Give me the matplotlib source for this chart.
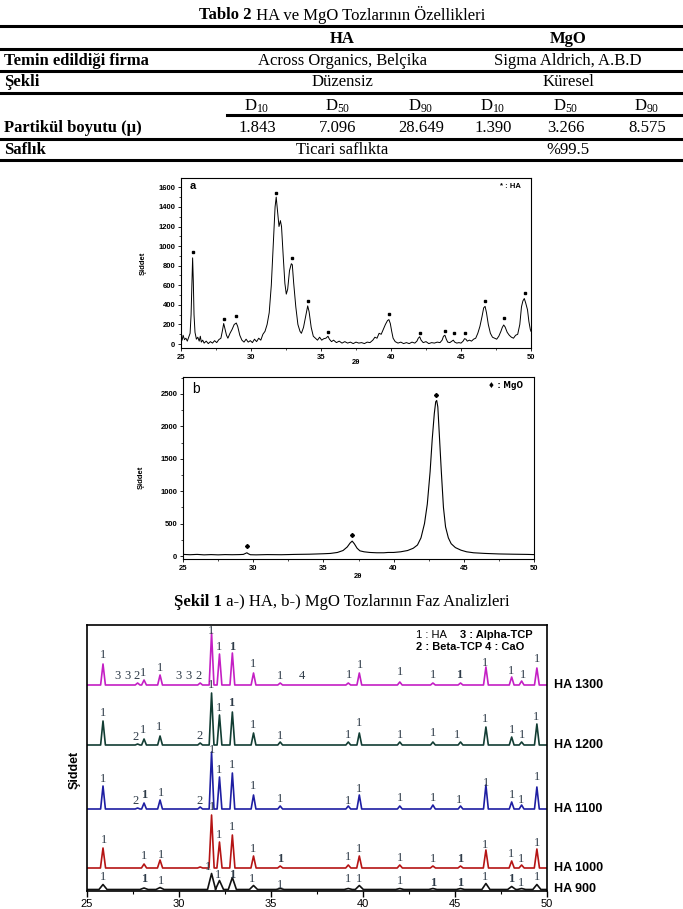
import matplotlib
matplotlib.use("Agg")
import numpy as np
import matplotlib.pyplot as plt
from matplotlib.lines import Line2D
from matplotlib.ticker import MultipleLocator, NullLocator

plt.rcParams["mathtext.fontset"] = "custom"
plt.rcParams["mathtext.rm"] = "Liberation Serif"
plt.rcParams["mathtext.it"] = "Liberation Serif:italic"
plt.rcParams["mathtext.bf"] = "Liberation Serif:bold"

W, H = 683, 909
SERIF = "Liberation Serif"
SANS = "Liberation Sans"

# ---- table data ----
TABLE_TITLE_BOLD = "Tablo 2"
TABLE_TITLE = " HA ve MgO Tozlarının Özellikleri"
GROUPS = ["HA", "MgO"]
ROW_LABELS = ["Temin edildiği firma", "Şekli", "Partikül boyutu (µ)", "Saflık"]
SUPPLIER = ["Across Organics, Belçika", "Sigma Aldrich, A.B.D"]
SHAPE = ["Düzensiz", "Küresel"]
D_SUBS = ["10", "50", "90", "10", "50", "90"]
PSIZE = ["1.843", "7.096", "28.649", "1.390", "3.266", "8.575"]
PURITY = ["Ticari saflıkta", "%99.5"]

# ---- figure 1a: HA powder (2theta, counts) ----
A_X = [25.0, 25.08, 25.15, 25.25, 25.35, 25.45, 25.55, 25.65, 25.72, 25.78, 25.83, 25.88, 25.93,
       26.0, 26.1, 26.2, 26.3, 26.38, 26.45, 26.55, 26.65, 26.8, 26.95, 27.1, 27.25, 27.4, 27.55,
       27.7, 27.85, 27.95, 28.05, 28.15, 28.25, 28.35, 28.5, 28.65, 28.8, 28.95, 29.05, 29.2, 29.35,
       29.5, 29.65, 29.8, 29.95, 30.1, 30.25, 30.4, 30.55, 30.7, 30.85, 31.0, 31.15, 31.3, 31.45,
       31.6, 31.72, 31.8, 31.9, 32.0, 32.1, 32.18, 32.3, 32.42, 32.52, 32.62, 32.75, 32.88, 32.95,
       33.05, 33.2, 33.35, 33.5, 33.6, 33.75, 33.9, 34.05, 34.15, 34.3, 34.45, 34.6, 34.75, 34.9,
       35.05, 35.2, 35.35, 35.5, 35.6, 35.75, 35.9, 36.1, 36.3, 36.5, 36.7, 36.9, 37.1, 37.3, 37.5,
       37.7, 37.9, 38.1, 38.3, 38.5, 38.7, 38.85, 39.0, 39.15, 39.3, 39.45, 39.6, 39.75, 39.85,
       39.95, 40.05, 40.15, 40.3, 40.5, 40.7, 40.9, 41.1, 41.3, 41.5, 41.7, 41.85, 41.95, 42.05,
       42.15, 42.3, 42.5, 42.7, 42.9, 43.1, 43.3, 43.5, 43.65, 43.75, 43.85, 43.95, 44.05, 44.2,
       44.35, 44.45, 44.55, 44.7, 44.85, 45.0, 45.15, 45.25, 45.35, 45.45, 45.6, 45.75, 45.9, 46.05,
       46.2, 46.35, 46.5, 46.62, 46.72, 46.82, 46.95, 47.1, 47.25, 47.4, 47.55, 47.7, 47.85, 47.95,
       48.05, 48.15, 48.3, 48.45, 48.6, 48.75, 48.9, 49.05, 49.2, 49.32, 49.42, 49.52, 49.62, 49.75,
       49.85, 49.95, 50.0]
A_Y = [80, 40, 90, 45, 60, 30, 70, 110, 300, 620, 880, 640, 300,
       120, 50, 70, 30, 80, 20, 40, 10, 30, 5, 25, 10, 35, 15,
       45, 60, 130, 210, 150, 90, 60, 110, 150, 200, 215, 180, 90, 40,
       20, 50, 20, 35, 15, 50, 25, 60, 40, 100, 130, 200, 320, 600,
       1050, 1400, 1500, 1350, 1200, 1260, 1200, 900, 620, 510, 560, 750, 820, 810,
       620, 380, 200, 130, 110, 170, 280, 390, 330, 170, 80, 60, 40, 70,
       40, 55, 60, 80, 50, 25, 40, 15, 30, 10, 25, 10, 20, 5, 20,
       10, 15, 5, 20, 15, 40, 70, 60, 110, 100, 150, 200, 240, 250,
       210, 130, 60, 25, 10, 20, 5, 15, 5, 20, 10, 30, 60, 75,
       40, 15, 25, 5, 15, 10, 20, 15, 40, 80, 90, 50, 20, 15,
       30, 40, 20, 10, 15, 10, 30, 55, 50, 30, 40, 30, 50, 60,
       110, 180, 280, 370, 385, 320, 200, 110, 70, 60, 50, 80, 130, 170,
       195, 175, 120, 90, 70, 60, 90, 100, 200, 380, 440, 465, 420, 350,
       230, 150, 130]
A_MARK_X = [25.83, 28.05, 28.95, 31.8, 32.93, 34.07, 35.5, 39.83, 42.1, 43.88, 44.48, 45.3, 46.74, 48.1, 49.55]
A_MARK_Y = [940, 260, 285, 1545, 875, 442, 120, 306, 110, 136, 110, 110, 440, 262, 523]

# ---- figure 1b: MgO powder ----
B_X = [25.0, 25.5, 26.0, 26.5, 27.0, 27.5, 28.0, 28.5, 29.0, 29.3, 29.45, 29.55, 29.65, 29.8,
       30.2, 31.0, 32.0, 33.0, 34.0, 35.0, 35.5, 36.0, 36.4, 36.7, 36.9, 37.05, 37.2, 37.4, 37.6,
       37.9, 38.3, 38.8, 39.3, 39.6, 40.0, 40.5, 41.0, 41.4, 41.7, 41.95, 42.2, 42.4, 42.6, 42.75,
       42.9, 43.0, 43.07, 43.15, 43.25, 43.4, 43.55, 43.7, 43.9, 44.1, 44.4, 44.8, 45.2, 45.7,
       46.5, 47.5, 48.5, 49.5, 50.0]
B_Y = [25, 20, 25, 18, 22, 18, 22, 20, 22, 25, 40, 50, 35, 20,
       18, 22, 20, 25, 28, 35, 40, 55, 85, 140, 200, 230, 190, 120, 80,
       65, 55, 50, 50, 55, 55, 65, 85, 120, 170, 280, 500, 800, 1300, 1800,
       2200, 2380, 2400, 2300, 1900, 1300, 750, 450, 280, 190, 130, 90, 65, 50,
       40, 32, 28, 25, 22]
B_MARK_X = [29.55, 37.05, 43.05]
B_MARK_Y = [150, 320, 2490]

# ---- figure 2: sintered HA patterns (peak position, relative height) ----
C_POS = [25.87, 27.75, 28.1, 28.97, 31.15, 31.77, 32.2, 32.9, 34.05, 35.5, 39.2, 39.8,
         42.0, 43.8, 45.3, 46.68, 48.08, 48.62, 49.45]
C_NAMES = ["HA 1300", "HA 1200", "HA 1100", "HA 1000", "HA 900"]
H1300 = [21, 2, 5, 10, 2, 52, 31, 32, 12, 2, 2, 12, 3, 2, 2, 18, 8, 4, 17]
H1200 = [24, 1, 6, 9, 2, 52, 30, 33, 12, 3, 3, 12, 3, 3, 3, 18, 8, 3, 21]
H1100 = [23, 1, 6, 9, 2, 57, 32, 36, 14, 3, 3, 14, 3, 4, 3, 24, 7, 4, 22]
H1000 = [20, 0, 4, 8, 1, 53, 26, 33, 12, 2, 3, 12, 3, 2, 2, 18, 7, 3, 19]
H900 = [5, 0, 1.5, 2, 0, 16, 9, 12, 4, 1, 1, 4, 1, 1, 1, 6, 3, 1, 5]

# phase labels: (text, 2theta, height above own baseline, bold)
LAB_1300 = [("1", 25.85, 30, 0), ("3", 26.65, 9, 0), ("3", 27.2, 9, 0), ("2", 27.7, 9, 0),
            ("1", 28.05, 12, 0), ("1", 28.97, 17, 0), ("3", 29.96, 9, 0), ("3", 30.5, 9, 0),
            ("2", 31.05, 9, 0), ("1", 31.75, 54, 0), ("1", 32.17, 38, 0), ("1", 32.9, 38, 1),
            ("1", 34.0, 21, 0), ("1", 35.5, 9, 0), ("4", 36.7, 9, 0), ("1", 39.25, 10, 0),
            ("1", 39.85, 20, 0), ("1", 42.0, 13, 0), ("1", 43.8, 10, 0), ("1", 45.25, 10, 1),
            ("1", 46.63, 22, 0), ("1", 48.04, 14, 0), ("1", 48.68, 10, 0), ("1", 49.47, 26, 0)]
LAB_1200 = [("1", 25.85, 32, 0), ("2", 27.66, 8, 0), ("1", 28.06, 15, 0), ("1", 28.93, 18, 0),
            ("2", 31.14, 9, 0), ("1", 31.72, 60, 0), ("1", 32.17, 37, 0), ("1", 32.86, 42, 1),
            ("1", 34.0, 20, 0), ("1", 35.5, 9, 0), ("1", 39.2, 10, 0), ("1", 39.8, 22, 0),
            ("1", 42.0, 10, 0), ("1", 43.8, 12, 0), ("1", 45.1, 10, 0), ("1", 46.63, 26, 0),
            ("1", 48.08, 15, 0), ("1", 48.62, 10, 0), ("1", 49.38, 28, 0)]
LAB_1100 = [("1", 25.85, 30, 0), ("2", 27.66, 8, 0), ("1", 28.1, 14, 1), ("1", 29.0, 16, 0),
            ("2", 31.14, 8, 0), ("1", 31.78, 59, 0), ("1", 32.17, 39, 0), ("1", 32.9, 44, 0),
            ("1", 34.0, 23, 0), ("1", 35.5, 10, 0), ("1", 39.2, 8, 0), ("1", 39.8, 20, 0),
            ("1", 42.0, 11, 0), ("1", 43.8, 11, 0), ("1", 45.2, 9, 0), ("1", 46.7, 26, 0),
            ("1", 48.1, 14, 0), ("1", 48.6, 9, 0), ("1", 49.45, 32, 0)]
LAB_1000 = [("1", 25.9, 28, 0), ("1", 28.1, 12, 0), ("1", 29.0, 13, 0), ("1", 31.78, 61, 0),
            ("1", 32.17, 33, 0), ("1", 32.9, 41, 0), ("1", 34.0, 19, 0), ("1", 35.5, 9, 1),
            ("1", 39.2, 11, 0), ("1", 39.8, 19, 0), ("1", 42.0, 10, 0), ("1", 43.8, 9, 0),
            ("1", 45.3, 9, 1), ("1", 46.65, 23, 0), ("1", 48.05, 14, 0), ("1", 48.6, 9, 0),
            ("1", 49.45, 25, 0)]
LAB_900 = [("1", 25.85, 13, 0), ("1", 28.1, 10, 1), ("1", 29.0, 8, 0), ("1", 31.6, 22, 0),
           ("1", 32.1, 14, 0), ("1", 32.9, 14, 1), ("1", 33.95, 11, 0), ("1", 35.5, 5, 0),
           ("1", 39.2, 10, 0), ("1", 39.8, 10, 0), ("1", 42.0, 8, 0), ("1", 43.8, 7, 1),
           ("1", 45.3, 7, 1), ("1", 46.65, 12, 0), ("1", 48.05, 10, 1), ("1", 48.6, 7, 0),
           ("1", 49.45, 12, 0)]


def fx(px):
    return px / W


def fy(py):
    return 1 - py / H


def rect(l, t, r, b):
    return [l / W, 1 - b / H, (r - l) / W, (b - t) / H]


def mixed_line(fig, y_px, bold, normal, cx_px, size):
    t1 = fig.text(0, fy(y_px), bold, family=SERIF, weight="bold", size=size, va="center")
    t2 = fig.text(0, fy(y_px), normal, family=SERIF, size=size, va="center")
    fig.canvas.draw()
    r = fig.canvas.get_renderer()
    w1 = t1.get_window_extent(r).width
    w2 = t2.get_window_extent(r).width
    x0 = cx_px - (w1 + w2) / 2
    t1.set_x(fx(x0))
    t2.set_x(fx(x0 + w1))


def draw_table(fig):
    fs = 12
    mixed_line(fig, 15, TABLE_TITLE_BOLD, TABLE_TITLE, 342, fs)
    for y in [26, 49, 71, 93, 139, 160]:
        fig.add_artist(Line2D([0, 1], [fy(y)] * 2, lw=2.2, color="black"))
    fig.add_artist(Line2D([fx(227), 1], [fy(115)] * 2, lw=2.2, color="black"))

    group_cx = [342, 568]
    col_cx = [257, 338, 421, 493, 566, 647]
    for cx, g in zip(group_cx, GROUPS):
        fig.text(fx(cx), fy(39), g, family=SERIF, weight="bold", size=fs, ha="center", va="center")
    for y, lab in zip([61, 82, 128, 150], ROW_LABELS):
        fig.text(fx(4), fy(y), lab, family=SERIF, weight="bold", size=fs, ha="left", va="center")
    for cx, s in zip(group_cx, SUPPLIER):
        fig.text(fx(cx), fy(61), s, family=SERIF, size=fs, ha="center", va="center")
    for cx, s in zip(group_cx, SHAPE):
        fig.text(fx(cx), fy(82), s, family=SERIF, size=fs, ha="center", va="center")
    for cx, d in zip(col_cx, D_SUBS):
        fig.text(fx(cx), fy(106), "D$_{\\mathrm{" + d + "}}$", family=SERIF, size=fs,
                 ha="center", va="center")
    for cx, v in zip(col_cx, PSIZE):
        fig.text(fx(cx), fy(128), v, family=SERIF, size=fs, ha="center", va="center")
    for cx, s in zip(group_cx, PURITY):
        fig.text(fx(cx), fy(150), s, family=SERIF, size=fs, ha="center", va="center")


def style_small(ax, ymaj, ymin):
    for s in ax.spines.values():
        s.set_linewidth(0.8)
    ax.xaxis.set_major_locator(MultipleLocator(5))
    ax.xaxis.set_minor_locator(MultipleLocator(2.5))
    ax.yaxis.set_major_locator(MultipleLocator(ymaj))
    ax.yaxis.set_minor_locator(MultipleLocator(ymin))
    ax.tick_params(which="major", direction="out", length=2.5, width=0.6, labelsize=5.5, pad=1.5)
    ax.tick_params(which="minor", direction="out", length=1.5, width=0.5)
    for lab in ax.get_xticklabels() + ax.get_yticklabels():
        lab.set_family(SANS)
        lab.set_weight("bold")


def spectrum(pos, heights, width):
    xs, ys = [25.0], [0.0]
    for p, h in zip(pos, heights):
        if h <= 0:
            continue
        xs += [p - width, p, p + width]
        ys += [0.0, h, 0.0]
    xs.append(50.0)
    ys.append(0.0)
    return np.array(xs), np.array(ys)


def main():
    fig = plt.figure(figsize=(W / 100, H / 100), dpi=100)
    draw_table(fig)

    # --- chart a ---
    ax = fig.add_axes(rect(181, 178, 531, 348))
    ax.plot(A_X, A_Y, color="black", lw=0.7)
    ax.plot(A_MARK_X, A_MARK_Y, ls="none", marker="s", ms=1.6, color="black")
    ax.set_xlim(25, 50)
    ax.set_ylim(-40, 1695)
    style_small(ax, 200, 100)
    ax.text(0.025, 0.985, "a", transform=ax.transAxes, family=SANS, weight="bold", size=8,
            ha="left", va="top")
    ax.text(0.97, 0.95, "* : HA", transform=ax.transAxes, family=SANS, weight="bold", size=5.5,
            ha="right", va="center")
    fig.text(fx(356), fy(362), "2θ", family=SANS, weight="bold", size=5.5, ha="center", va="center")
    fig.text(fx(143), fy(263), "Şiddet", family=SANS, weight="bold", size=5.5, rotation=90,
             ha="center", va="center")

    # --- chart b ---
    ax = fig.add_axes(rect(183, 377, 534, 559))
    ax.plot(B_X, B_Y, color="black", lw=0.8)
    ax.plot(B_MARK_X, B_MARK_Y, ls="none", marker="D", ms=2.0, color="black")
    ax.set_xlim(25, 50)
    ax.set_ylim(-46, 2762)
    style_small(ax, 500, 250)
    ax.text(0.025, 0.97, "b", transform=ax.transAxes, family=SANS, size=10,
            ha="left", va="top")
    ax.text(0.97, 0.955, "♦ : MgO", family=["DejaVu Sans"], transform=ax.transAxes, weight="bold",
            size=5.5, ha="right", va="center")
    fig.text(fx(358), fy(576), "2θ", family=SANS, weight="bold", size=5.5, ha="center", va="center")
    fig.text(fx(141), fy(477), "Şiddet", family=SANS, weight="bold", size=5.5, rotation=90,
             ha="center", va="center")

    mixed_line(fig, 602, "Şekil 1", " a-) HA, b-) MgO Tozlarının Faz Analizleri", 342, 12)

    # --- chart c ---
    ax = fig.add_axes(rect(87, 625, 547, 891))
    ax.set_xlim(25, 50)
    ax.set_ylim(0, 266)
    heights = [H1300, H1200, H1100, H1000, H900]
    labels = [LAB_1300, LAB_1200, LAB_1100, LAB_1000, LAB_900]
    colors = ["#c41fc4", "#123d33", "#1e1ea2", "#b51414", "#111111"]
    offsets = [206, 146, 82, 23, 1.5]
    widths = [0.13, 0.13, 0.13, 0.14, 0.22]
    lab_color = "#2e3b48"
    for name, hs, labs, col, off, w in zip(C_NAMES, heights, labels, colors, offsets, widths):
        xs, ys = spectrum(C_POS, hs, w)
        ax.plot(xs, ys + off, color=col, lw=1.2)
        for txt, x, h, b in labs:
            ax.text(x, off + h, txt, family=SERIF, size=9, color=lab_color,
                    weight="bold" if b else "normal", ha="center", va="center")
        ax.text(1.015, off, name, transform=ax.get_yaxis_transform(), family=SANS,
                weight="bold", size=9, ha="left", va="center", clip_on=False)

    ax.text(0.715, 0.962, "1 : HA", transform=ax.transAxes, family=SANS, size=8,
            ha="left", va="center")
    ax.text(0.81, 0.962, "3 : Alpha-TCP", transform=ax.transAxes, family=SANS, weight="bold",
            size=8, ha="left", va="center")
    ax.text(0.715, 0.917, "2 : Beta-TCP 4 : CaO", transform=ax.transAxes, family=SANS,
            weight="bold", size=8, ha="left", va="center")

    for s in ax.spines.values():
        s.set_linewidth(1.2)
    ax.xaxis.set_major_locator(MultipleLocator(5))
    ax.xaxis.set_minor_locator(MultipleLocator(2.5))
    ax.yaxis.set_major_locator(NullLocator())
    ax.tick_params(which="major", direction="out", length=4, width=1.0, labelsize=8, pad=2)
    ax.tick_params(which="minor", direction="out", length=2.5, width=0.8)
    for lab in ax.get_xticklabels():
        lab.set_family(SANS)
    fig.text(fx(75), fy(770), "Şiddet", family=SANS, weight="bold", size=9, rotation=90,
             ha="center", va="center")

    fig.savefig("out.png", dpi=100)


if __name__ == "__main__":
    main()
